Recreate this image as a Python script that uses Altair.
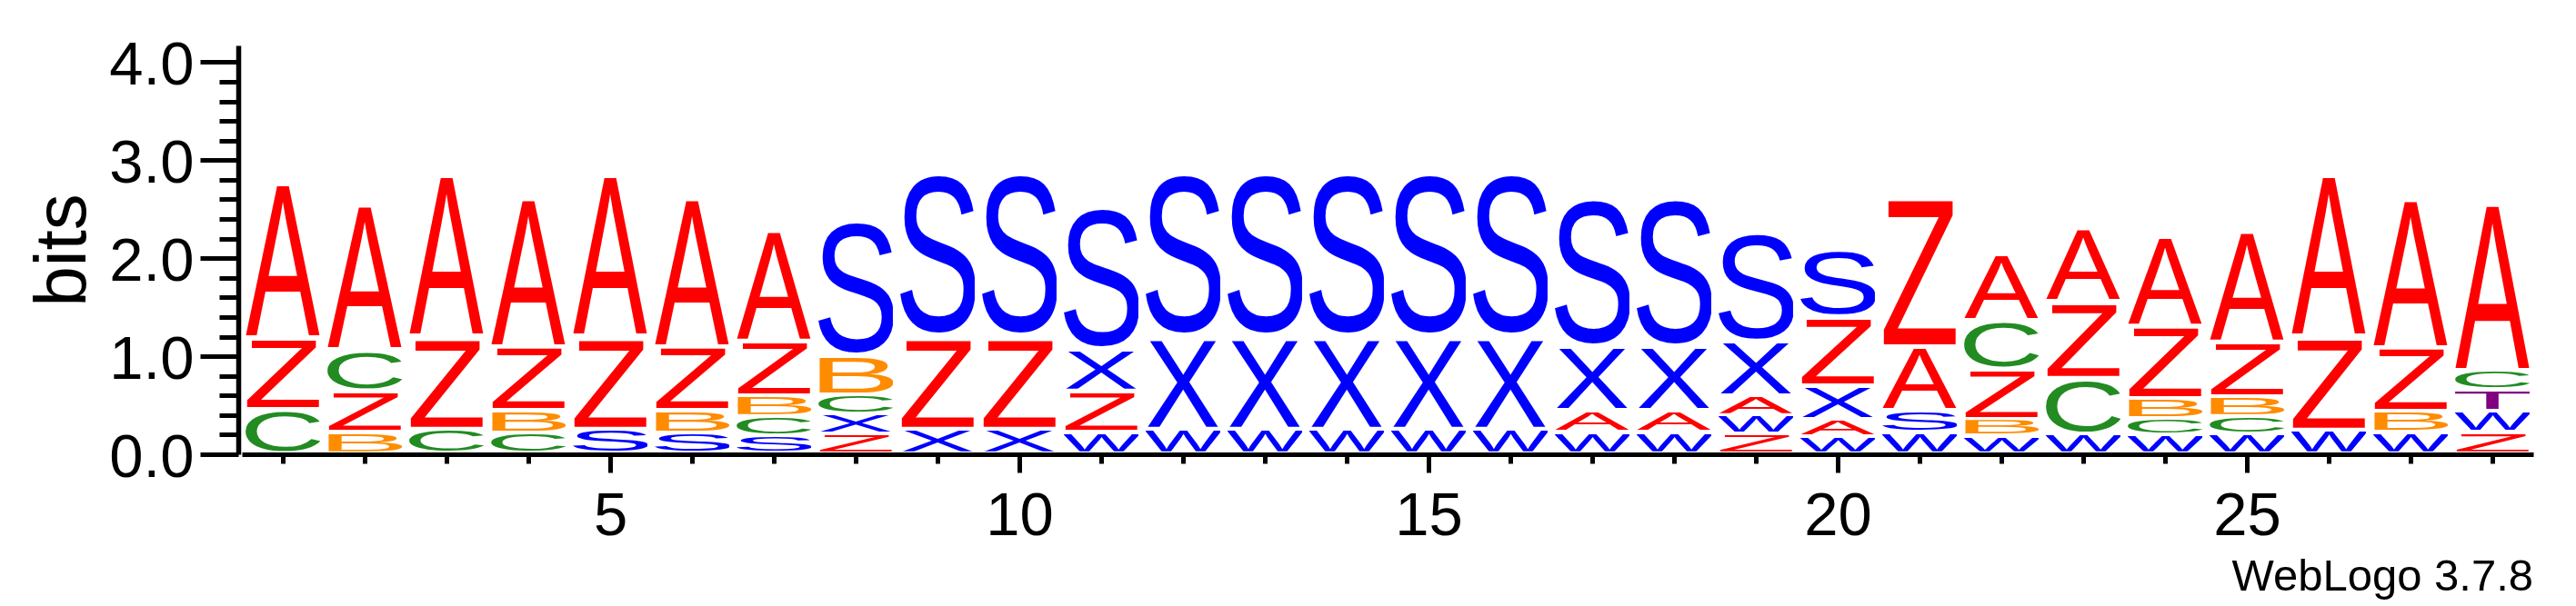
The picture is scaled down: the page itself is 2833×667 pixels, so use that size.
import base64
import altair as alt
import pandas as pd

# ---- data (letters bottom -> top, heights in bits) ----
positions = list(range(1, 29))
stack_letters = [
    "CZA", "BZCA", "CZA", "CBZA", "SZA", "SBZA", "SCBZA", "ZXCBS", "XZS", "XZS",
    "WZXS", "WXS", "WXS", "WXS", "WXS", "WXS", "WAXS", "WAXS", "ZWAXS", "WAXZS",
    "WSAZ", "WBZCA", "WCZA", "WCBZA", "WCBZA", "WZA", "WBZA", "ZWTCA",
]
stack_heights = [
    [0.45, 0.73, 1.61],
    [0.22, 0.42, 0.42, 1.50],
    [0.25, 0.95, 1.68],
    [0.21, 0.23, 0.65, 1.54],
    [0.25, 0.95, 1.68],
    [0.21, 0.23, 0.65, 1.54],
    [0.18, 0.20, 0.21, 0.56, 1.14],
    [0.20, 0.20, 0.20, 0.40, 1.40],
    [0.25, 0.95, 1.70],
    [0.25, 0.95, 1.70],
    [0.22, 0.42, 0.43, 1.48],
    [0.25, 0.95, 1.70],
    [0.25, 0.95, 1.70],
    [0.25, 0.95, 1.70],
    [0.25, 0.95, 1.70],
    [0.25, 0.95, 1.70],
    [0.22, 0.22, 0.65, 1.54],
    [0.22, 0.22, 0.65, 1.54],
    [0.20, 0.19, 0.20, 0.56, 1.14],
    [0.17, 0.18, 0.34, 0.71, 0.69],
    [0.22, 0.22, 0.65, 1.54],
    [0.18, 0.17, 0.51, 0.50, 0.68],
    [0.20, 0.57, 0.78, 0.76],
    [0.19, 0.17, 0.20, 0.74, 0.93],
    [0.20, 0.18, 0.20, 0.56, 1.14],
    [0.24, 0.96, 1.68],
    [0.22, 0.21, 0.65, 1.54],
    [0.22, 0.21, 0.22, 0.20, 1.74],
]

letter_colors = {
    "A": "#ff0000", "Z": "#ff0000",
    "S": "#0000ff", "X": "#0000ff", "W": "#0000ff",
    "C": "#228b22", "B": "#ff8c00", "T": "#800080",
}
# glyph outline boxes (font units of 2048) so the glyph fills its stack box
glyph_bbox = {
    "A": (-3, 0, 1369, 1466), "B": (150, 0, 1257, 1466), "C": (102, -25, 1398, 1491),
    "S": (92, -25, 1259, 1491), "T": (50, 0, 1196, 1466), "W": (26, 0, 1910, 1466),
    "X": (9, 0, 1358, 1466), "Z": (41, 0, 1205, 1466),
}


def glyph_url(letter):
    xmin, ymin, xmax, ymax = glyph_bbox[letter]
    w, h = xmax - xmin, ymax - ymin
    svg = (
        f'<svg xmlns="http://www.w3.org/2000/svg" width="{w}" height="{h}" '
        f'viewBox="{xmin} {-ymax} {w} {h}" preserveAspectRatio="none">'
        f'<text x="0" y="0" font-family="Liberation Sans, Arial, sans-serif" '
        f'font-size="2048" fill="{letter_colors[letter]}">{letter}</text></svg>'
    )
    return "data:image/svg+xml;base64," + base64.b64encode(svg.encode()).decode()


half_w = 0.455
gap = 0.03
rows = []
for pos, letters, heights in zip(positions, stack_letters, stack_heights):
    bottom = 0.0
    for letter, h in zip(letters, heights):
        top = bottom + h
        rows.append({
            "position": pos, "letter": letter, "bits": h,
            "x0": pos - half_w, "x1": pos + half_w,
            "y0": bottom + gap, "y1": top,
            "url": glyph_url(letter),
        })
        bottom = top
df = pd.DataFrame(rows)

FONT = "Liberation Sans"
is_int = "abs(datum.value - round(datum.value)) < 0.000001"

x_axis = alt.Axis(
    values=positions,
    labelExpr="datum.value % 5 === 0 ? datum.label : ''",
    tickSize={"condition": {"test": "datum.value % 5 === 0", "value": 20}, "value": 10},
    tickWidth=5, tickColor="black",
    domainWidth=5, domainColor="black",
    labelFont=FONT, labelFontSize=67, labelColor="black", labelPadding=15,
    labelOverlap=False, labelFlush=False,
    grid=False, title=None,
)
y_axis = alt.Axis(
    values=[round(0.2 * k, 1) for k in range(21)],
    labelExpr=f"{is_int} ? format(datum.value, '.1f') : ''",
    tickSize={"condition": {"test": is_int, "value": 42}, "value": 21},
    tickWidth=5, tickColor="black",
    domainWidth=5.5, domainColor="black",
    offset=4,
    labelFont=FONT, labelFontSize=67, labelColor="black", labelPadding=7,
    labelOffset=4, labelOverlap=False,
    grid=False,
    title="bits", titleFont=FONT, titleFontSize=80, titleFontWeight="normal",
    titleColor="black", titlePadding=9,
)

chart = (
    alt.Chart(df)
    .mark_image(aspect=False)
    .encode(
        x=alt.X("x0:Q", scale=alt.Scale(domain=[0.5, 28.5], nice=False, zero=False), axis=x_axis),
        x2="x1:Q",
        y=alt.Y("y1:Q", scale=alt.Scale(domain=[0, 4.17], nice=False), axis=y_axis),
        y2="y0:Q",
        url="url:N",
    )
    .properties(
        width=2520,
        height=450,
        autosize=alt.AutoSizeParams(type="none"),
        padding={"left": 258, "top": 42, "right": 39, "bottom": 165},
        background="white",
        title=alt.TitleParams(
            "WebLogo 3.7.8", orient="bottom", anchor="end", fontSize=49,
            font=FONT, fontWeight="normal", color="black", offset=10,
        ),
    )
    .configure_view(stroke=None)
)

chart.save("out.html", embed_options={"renderer": "svg", "actions": False})
